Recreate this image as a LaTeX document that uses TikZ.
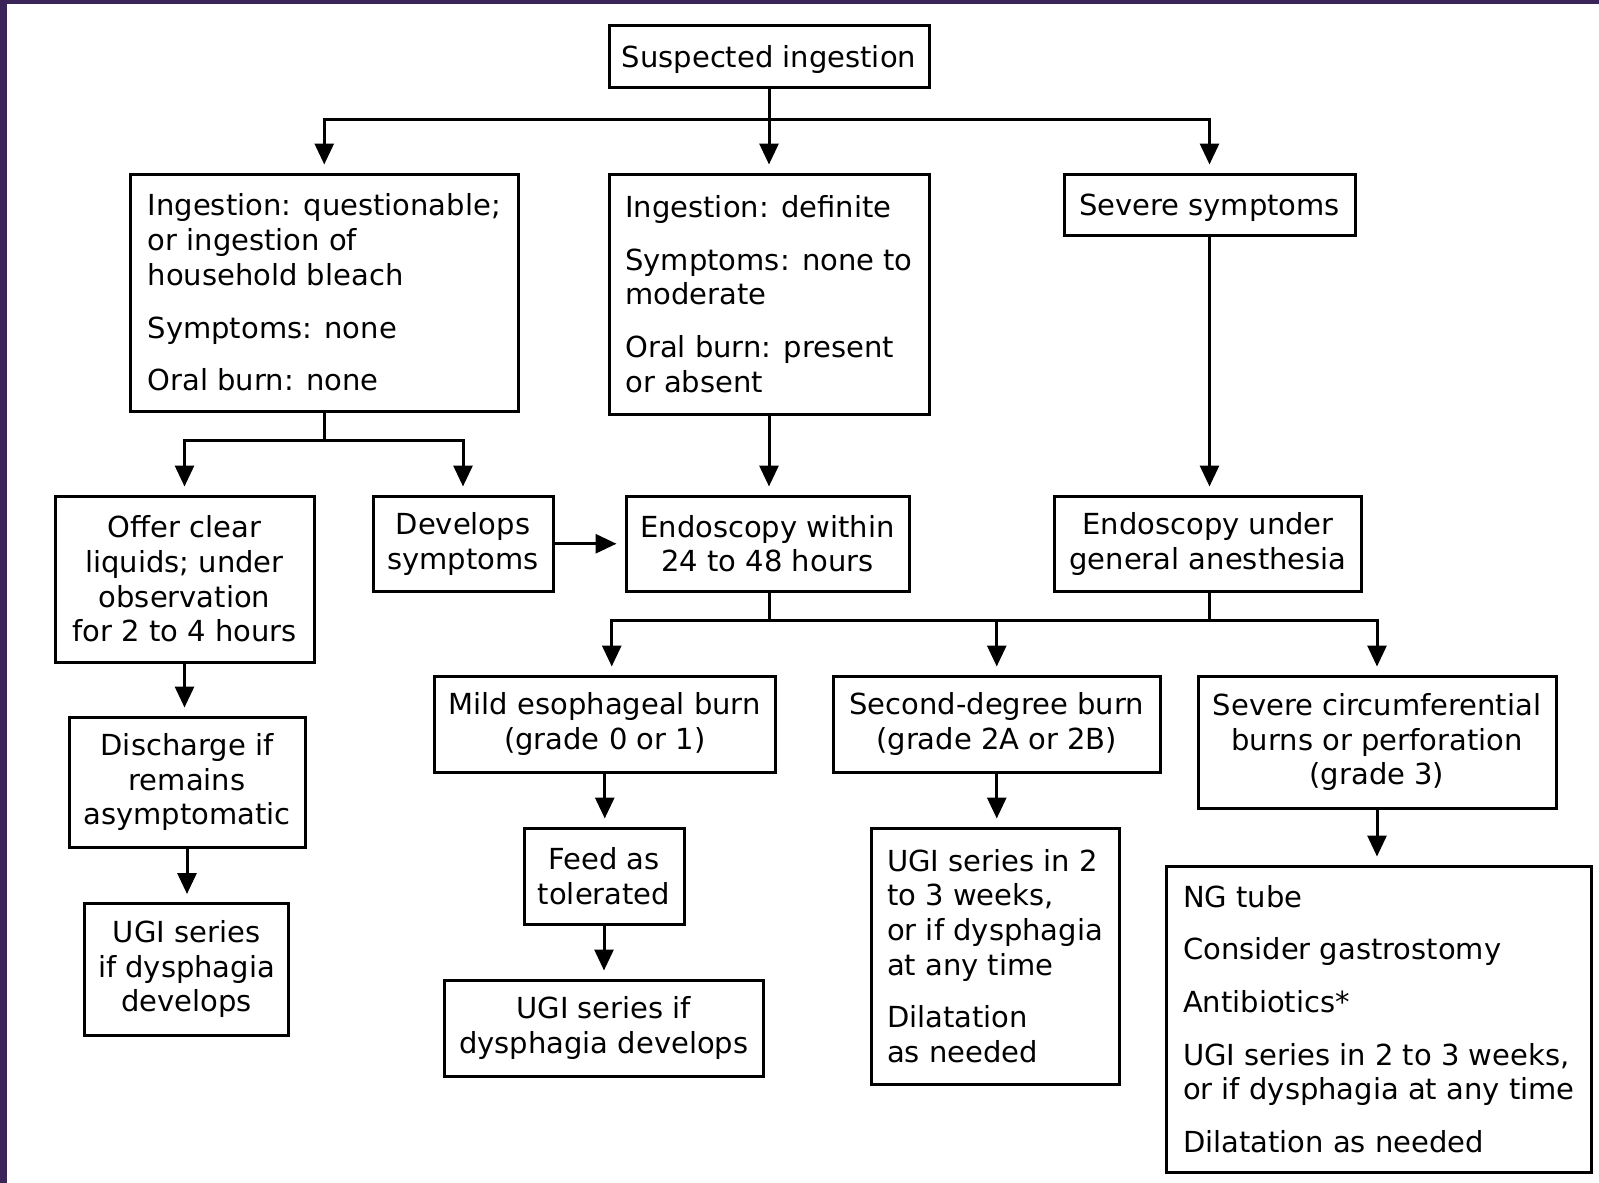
\documentclass[tikz,border=0pt]{standalone}
\usepackage{fontspec}
\setmainfont{DejaVu Sans}
\usetikzlibrary{arrows.meta,calc}
\definecolor{frame}{HTML}{3B2457}
\tikzset{
  box/.style={draw, line width=3pt, inner sep=0pt, font=\fontsize{29}{34.7}\selectfont},
  ln/.style={line width=3pt},
  arr/.style={line width=3pt, -{Triangle[width=19pt,length=21pt]}, shorten >=8pt},
}
\newcommand{\pg}{\\[18pt]}
\begin{document}
\begin{tikzpicture}[x=1pt,y=-1pt]
\fill[frame] (0,0) rectangle (1599,1183);
\fill[white] (7,4) rectangle (1599,1183);
\useasboundingbox (0,0) rectangle (1599,1183);

\node[box, minimum width=320, minimum height=62, align=center, text depth=0pt] (S) at (769,56.6) {Suspected ingestion};
\node[box, minimum width=387.5, minimum height=237, align=left] (A) at (324.25,292.5)
  {Ingestion: questionable;\\ or ingestion of\\ household bleach\pg Symptoms: none\pg Oral burn: none};
\node[box, minimum width=320, minimum height=240, align=left] (B) at (769,294)
  {Ingestion: definite\pg Symptoms: none to\\ moderate\pg Oral burn: present\\ or absent};
\node[box, minimum width=291, minimum height=61.5, align=center, text depth=1pt] (C) at (1209.5,204.75) {Severe symptoms};

\node[box, minimum width=259, minimum height=166, align=center] (Offer) at (184.5,579)
  {Offer clear\\ liquids; under\\ observation\\ for 2 to 4 hours};
\node[box, minimum width=180, minimum height=95.5, align=center] (Dev) at (463,543.75)
  {Develops\\ symptoms};
\node[box, minimum width=283, minimum height=95.5, align=center] (EW) at (767.5,543.75)
  {Endoscopy within\\ 24 to 48 hours};
\node[box, minimum width=307, minimum height=95.5, align=center] (EGA) at (1208,543.75)
  {Endoscopy under\\ general anesthesia};

\node[box, minimum width=340.5, minimum height=96, align=center] (Mild) at (604.75,724)
  {Mild esophageal burn\\ (grade 0 or 1)};
\node[box, minimum width=327.5, minimum height=96, align=center] (Sec) at (996.75,724)
  {Second-degree burn\\ (grade 2A or 2B)};
\node[box, minimum width=358, minimum height=132, align=center] (Sev) at (1377,742)
  {Severe circumferential\\ burns or perforation\\ (grade 3)};

\node[box, minimum width=236, minimum height=130, align=center] (Disch) at (187,782)
  {Discharge if\\ remains\\ asymptomatic};
\node[box, minimum width=204, minimum height=131.5, align=center] (UGIL) at (186.5,969.25)
  {UGI series\\ if dysphagia\\ develops};
\node[box, minimum width=160, minimum height=96, align=center] (Feed) at (604,876)
  {Feed as\\ tolerated};
\node[box, minimum width=318.4, minimum height=96, align=center] (UGIM) at (603.8,1028)
  {UGI series if\\ dysphagia develops};
\node[box, minimum width=248, minimum height=256, align=left] (UGI23) at (995,956)
  {UGI series in 2\\ to 3 weeks,\\ or if dysphagia\\ at any time\pg Dilatation\\ as needed};
\node[box, minimum width=424.4, minimum height=306, align=left] (NG) at (1378.8,1019)
  {NG tube\pg Consider gastrostomy\pg Antibiotics*\pg UGI series in 2 to 3 weeks,\\ or if dysphagia at any time\pg Dilatation as needed};

% top branch
\coordinate (t1) at (769,119);
\draw[ln] (S.south) -- (t1);
\draw[arr] (t1) -| (A.north);
\draw[arr] (t1) -| (C.north);
\draw[arr] (t1) -- (B.north);

% branch under A
\coordinate (t2) at (324.25,440.5);
\draw[ln] (A.south) -- (t2);
\draw[arr] (t2) -| (Offer.north);
\draw[arr] (t2) -| (Dev.north);

\draw[arr] (Dev.east) -- (EW.west);
\draw[arr] (B.south) -- (B.south |- EW.north);
\draw[arr] (C.south) -- (C.south |- EGA.north);

% lower bus
\coordinate (t3) at (769,620);
\coordinate (t4) at (1209.5,620);
\coordinate (mt) at ($(Mild.north)+(7,0)$);
\draw[ln] (EW.south -| t3) -- (t3);
\draw[ln] (EGA.south -| t4) -- (t4);
\draw[ln] (t3) -- (t4);
\draw[arr] (t3) -| (mt);
\draw[arr] (t3) -| (Sec.north);
\draw[arr] (t4) -| (Sev.north);

% chains
\draw[arr] (Offer.south) -- (Offer.south |- Disch.north);
\draw[arr] (Disch.south) -- (Disch.south |- UGIL.north);
\draw[arr] (Mild.south) -- (Mild.south |- Feed.north);
\draw[arr] (Feed.south) -- (Feed.south |- UGIM.north);
\draw[arr] (Sec.south) -- (Sec.south |- UGI23.north);
\draw[arr] (Sev.south) -- (Sev.south |- NG.north);
\end{tikzpicture}
\end{document}
